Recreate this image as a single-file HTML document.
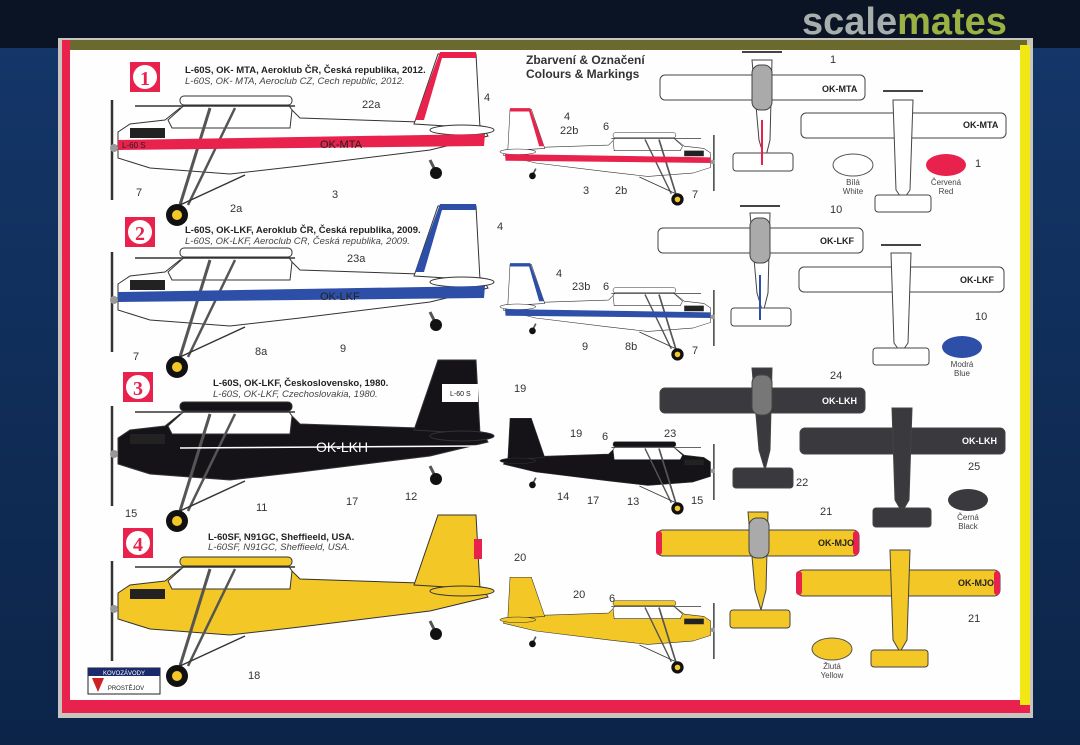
<!DOCTYPE html>
<html><head><meta charset="utf-8"><style>
html,body{margin:0;padding:0;width:1080px;height:745px;overflow:hidden;background:#0e2c55;}
svg{display:block}
text{font-family:"Liberation Sans","DejaVu Sans",sans-serif;}
</style></head><body>
<svg width="1080" height="745" viewBox="0 0 1080 745" xmlns="http://www.w3.org/2000/svg">
<defs>
<linearGradient id="bg" x1="0" y1="0" x2="0" y2="1"><stop offset="0" stop-color="#14376a"/><stop offset="1" stop-color="#0c2448"/></linearGradient>
<g id="side">
 <path d="M118,132 L130,124 L165,120 L180,108 L290,108 L300,118 L420,122 L482,126 L488,136 L430,150 L300,166 L230,174 L150,168 L118,158 Z" stroke="#333" stroke-width="1"/>
 <path d="M414,124 L438,54 L476,54 L480,128 Z" stroke="#333" stroke-width="1"/>
 <ellipse cx="462" cy="130" rx="32" ry="5" stroke="#333" stroke-width="1"/>
 <path d="M168,120 L190,100 L285,100 L292,110 L290,128 L172,128 Z" fill="#fff" stroke="#333" stroke-width="1"/>
 <rect x="180" y="96" width="112" height="9" rx="4" stroke="#333" stroke-width="1"/>
 <line x1="135" y1="106" x2="295" y2="106" stroke="#333" stroke-width="1.5"/>
 <line x1="210" y1="108" x2="180" y2="205" stroke="#555" stroke-width="3"/>
 <line x1="235" y1="108" x2="188" y2="205" stroke="#555" stroke-width="2.5"/>
 <line x1="180" y1="205" x2="245" y2="175" stroke="#333" stroke-width="1.5"/>
 <circle cx="177" cy="215" r="11" fill="#111"/>
 <circle cx="177" cy="215" r="5" fill="#f3c826"/>
 <line x1="430" y1="160" x2="436" y2="172" stroke="#555" stroke-width="3"/>
 <circle cx="436" cy="173" r="6" fill="#111"/>
 <line x1="112" y1="100" x2="112" y2="200" stroke="#333" stroke-width="2.5"/>
 <circle cx="114" cy="148" r="4" fill="#999"/>
 <path d="M130,128 L165,128 L165,138 L130,138 Z" fill="#222"/>
</g>
</defs>
<rect width="1080" height="745" fill="url(#bg)"/>
<rect x="0" y="0" width="1080" height="48" fill="#0b1424"/>
<rect x="58" y="38" width="975" height="680" fill="#c8c4c0"/>
<rect x="62" y="40" width="965" height="12" fill="#6b6a2e"/>
<rect x="62" y="40" width="8" height="672" fill="#e8224c"/>
<rect x="62" y="700" width="968" height="13" fill="#e8224c"/>
<rect x="1020" y="45" width="10" height="660" fill="#f1e714"/>
<rect x="70" y="50" width="950" height="650" fill="#fefefe"/>
<text x="802" y="34" font-size="38" font-weight="bold" fill="#c4c9c4" fill-opacity="0.85">scale<tspan fill="#b6cc4a">mates</tspan></text>

<g font-weight="bold">
 <rect x="130" y="62" width="30" height="30" fill="#e8224c"/><circle cx="145" cy="77" r="12" fill="#fff"/><text x="145" y="85" font-size="20" font-weight="bold" text-anchor="middle" fill="#e8224c" style="font-family:'Liberation Serif',serif">1</text>
 <rect x="125" y="217" width="30" height="30" fill="#e8224c"/><circle cx="140" cy="232" r="12" fill="#fff"/><text x="140" y="240" font-size="20" font-weight="bold" text-anchor="middle" fill="#e8224c" style="font-family:'Liberation Serif',serif">2</text>
 <rect x="123" y="372" width="30" height="30" fill="#e8224c"/><circle cx="138" cy="387" r="12" fill="#fff"/><text x="138" y="395" font-size="20" font-weight="bold" text-anchor="middle" fill="#e8224c" style="font-family:'Liberation Serif',serif">3</text>
 <rect x="123" y="528" width="30" height="30" fill="#e8224c"/><circle cx="138" cy="543" r="12" fill="#fff"/><text x="138" y="551" font-size="20" font-weight="bold" text-anchor="middle" fill="#e8224c" style="font-family:'Liberation Serif',serif">4</text>
</g>

<g font-size="9.5" fill="#222">
<text x="185" y="73" font-weight="bold">L-60S, OK- MTA, Aeroklub ČR, Česká republika, 2012.</text>
<text x="185" y="84" font-style="italic" fill="#444">L-60S, OK- MTA, Aeroclub CZ, Cech republic, 2012.</text>
<text x="185" y="233" font-weight="bold">L-60S, OK-LKF, Aeroklub ČR, Česká republika, 2009.</text>
<text x="185" y="244" font-style="italic" fill="#444">L-60S, OK-LKF, Aeroclub CR, Česká republika, 2009.</text>
<text x="213" y="386" font-weight="bold">L-60S, OK-LKF, Československo, 1980.</text>
<text x="213" y="397" font-style="italic" fill="#444">L-60S, OK-LKF, Czechoslovakia, 1980.</text>
<text x="208" y="540" font-weight="bold">L-60SF, N91GC, Sheffieeld, USA.</text>
<text x="208" y="550" font-style="italic" fill="#444">L-60SF, N91GC, Sheffieeld, USA.</text>
</g>
<text x="526" y="64" font-size="12" font-weight="bold" fill="#333">Zbarvení &amp; Označení</text>
<text x="526" y="78" font-size="12" font-weight="bold" fill="#333">Colours &amp; Markings</text>

<use href="#side" fill="#fff"/>
<path d="M118,140 L485,134 L484,146 L118,150 Z" fill="#e8224c"/>
<path d="M440,52 L476,52 L476,58 L442,58 L424,120 L415,120 Z" fill="#e8224c"/>
<text x="320" y="148" font-size="11" fill="#222">OK-MTA</text>
<text x="122" y="148" font-size="8" fill="#222">L-60 S</text>

<g transform="translate(0,152)"><use href="#side" fill="#fff"/>
<path d="M118,140 L485,134 L484,146 L118,150 Z" fill="#2e4fa8"/>
<path d="M440,52 L476,52 L476,58 L442,58 L424,120 L415,120 Z" fill="#2e4fa8"/>
<text x="320" y="148" font-size="11" fill="#222">OK-LKF</text></g>

<g transform="translate(0,306)"><use href="#side" fill="#151318"/>
<line x1="180" y1="142" x2="480" y2="140" stroke="#fff" stroke-width="1.5"/>
<text x="316" y="146" font-size="14" fill="#fff">OK-LKH</text>
<rect x="442" y="78" width="36" height="18" fill="#fff"/><text x="450" y="90" font-size="7" fill="#111">L-60 S</text></g>

<g transform="translate(0,461)"><use href="#side" fill="#f3c826"/>
<rect x="474" y="78" width="8" height="20" fill="#e8224c"/></g>

<g transform="translate(776.6,79) scale(-0.56,0.56)"><use href="#side" fill="#fff"/><path d="M118,140 L485,134 L484,146 L118,150 Z" fill="#e8224c"/><path d="M440,52 L476,52 L476,58 L442,58 L424,120 L415,120 Z" fill="#e8224c"/></g>
<g transform="translate(776.6,234) scale(-0.56,0.56)"><use href="#side" fill="#fff"/><path d="M118,140 L485,134 L484,146 L118,150 Z" fill="#2e4fa8"/><path d="M440,52 L476,52 L476,58 L442,58 L424,120 L415,120 Z" fill="#2e4fa8"/></g>
<g transform="translate(776.6,388) scale(-0.56,0.56)"><use href="#side" fill="#151318"/></g>
<g transform="translate(776.6,547) scale(-0.56,0.56)"><use href="#side" fill="#f3c826"/></g>

<g stroke="#444" stroke-width="1">
 <rect x="660" y="75" width="205" height="25" rx="5" fill="#fff"/><path d="M752,60 L772,60 L770,140 L765,160 L759,140 Z" fill="#fff"/><rect x="752" y="65" width="20" height="45" rx="8" fill="#aaa"/><rect x="733" y="153" width="60" height="18" rx="3" fill="#fff"/><line x1="742" y1="52" x2="782" y2="52" stroke-width="2"/>
 <line x1="762" y1="120" x2="762" y2="165" stroke="#e8224c" stroke-width="2"/>
 <rect x="801" y="113" width="205" height="25" rx="5" fill="#fff"/><path d="M893,100 L913,100 L910,190 L903,200 L896,190 Z" fill="#fff"/><rect x="875" y="195" width="56" height="17" rx="3" fill="#fff"/><line x1="883" y1="91" x2="923" y2="91" stroke-width="2"/>
 <rect x="658" y="228" width="205" height="25" rx="5" fill="#fff"/><path d="M750,213 L770,213 L768,293 L763,313 L757,293 Z" fill="#fff"/><rect x="750" y="218" width="20" height="45" rx="8" fill="#aaa"/><rect x="731" y="308" width="60" height="18" rx="3" fill="#fff"/><line x1="740" y1="206" x2="780" y2="206" stroke-width="2"/>
 <line x1="760" y1="275" x2="760" y2="320" stroke="#2e4fa8" stroke-width="2"/>
 <rect x="799" y="267" width="205" height="25" rx="5" fill="#fff"/><path d="M891,253 L911,253 L908,343 L901,353 L894,343 Z" fill="#fff"/><rect x="873" y="348" width="56" height="17" rx="3" fill="#fff"/><line x1="881" y1="245" x2="921" y2="245" stroke-width="2"/>
 <rect x="660" y="388" width="205" height="25" rx="5" fill="#3a393d"/><path d="M752,368 L772,368 L770,450 L765,470 L759,450 Z" fill="#3a393d"/><rect x="752" y="375" width="20" height="40" rx="8" fill="#777"/><rect x="733" y="468" width="60" height="20" rx="3" fill="#3a393d"/>
 <rect x="800" y="428" width="205" height="26" rx="5" fill="#3a393d"/><path d="M892,408 L912,408 L909,500 L902,512 L895,500 Z" fill="#3a393d"/><rect x="873" y="508" width="58" height="19" rx="3" fill="#3a393d"/>
 <rect x="657" y="530" width="202" height="26" rx="6" fill="#f3c826"/><path d="M748,512 L768,512 L766,590 L761,610 L755,590 Z" fill="#f3c826"/><rect x="749" y="518" width="20" height="40" rx="8" fill="#aaa"/><rect x="730" y="610" width="60" height="18" rx="3" fill="#f3c826"/>
 <rect x="797" y="570" width="203" height="26" rx="6" fill="#f3c826"/><path d="M890,550 L910,550 L907,640 L900,652 L893,640 Z" fill="#f3c826"/><rect x="871" y="650" width="57" height="17" rx="3" fill="#f3c826"/>
</g>
<g fill="#e8224c"><rect x="656" y="531" width="6" height="24" rx="3"/><rect x="853" y="531" width="6" height="24" rx="3"/><rect x="796" y="571" width="6" height="24" rx="3"/><rect x="994" y="571" width="6" height="24" rx="3"/></g>
<g font-size="9" font-weight="bold" fill="#222">
<text x="822" y="92">OK-MTA</text><text x="963" y="128">OK-MTA</text>
<text x="820" y="244">OK-LKF</text><text x="960" y="283">OK-LKF</text>
<text x="822" y="404" fill="#fff">OK-LKH</text><text x="962" y="444" fill="#fff">OK-LKH</text>
<text x="818" y="546">OK-MJO</text><text x="958" y="586">OK-MJO</text>
</g>

<g stroke="#555" stroke-width="1">
<ellipse cx="853" cy="165" rx="20" ry="11" fill="#fff"/>
<ellipse cx="946" cy="165" rx="20" ry="11" fill="#e8224c" stroke="none"/>
<ellipse cx="962" cy="347" rx="20" ry="11" fill="#2e4fa8" stroke="none"/>
<ellipse cx="968" cy="500" rx="20" ry="11" fill="#3a393d" stroke="none"/>
<ellipse cx="832" cy="649" rx="20" ry="11" fill="#f3c826"/>
</g>
<g font-size="8" fill="#444" text-anchor="middle">
<text x="853" y="185">Bílá</text><text x="853" y="194">White</text>
<text x="946" y="185">Červená</text><text x="946" y="194">Red</text>
<text x="962" y="367">Modrá</text><text x="962" y="376">Blue</text>
<text x="968" y="520">Černá</text><text x="968" y="529">Black</text>
<text x="832" y="669">Žlutá</text><text x="832" y="678">Yellow</text>
</g>

<g font-size="11" fill="#333">
<text x="484" y="101">4</text><text x="362" y="108">22a</text><text x="136" y="196">7</text><text x="230" y="212">2a</text><text x="332" y="198">3</text>
<text x="564" y="120">4</text><text x="560" y="134">22b</text><text x="603" y="130">6</text><text x="583" y="194">3</text><text x="615" y="194">2b</text><text x="692" y="198">7</text>
<text x="497" y="230">4</text><text x="347" y="262">23a</text><text x="133" y="360">7</text><text x="255" y="355">8a</text><text x="340" y="352">9</text>
<text x="556" y="277">4</text><text x="572" y="290">23b</text><text x="603" y="290">6</text><text x="582" y="350">9</text><text x="625" y="350">8b</text><text x="692" y="354">7</text>
<text x="514" y="392">19</text><text x="125" y="517">15</text><text x="256" y="511">11</text><text x="346" y="505">17</text><text x="405" y="500">12</text>
<text x="570" y="437">19</text><text x="602" y="440">6</text><text x="664" y="437">23</text><text x="557" y="500">14</text><text x="587" y="504">17</text><text x="627" y="505">13</text><text x="691" y="504">15</text>
<text x="514" y="561">20</text><text x="248" y="679">18</text><text x="573" y="598">20</text><text x="609" y="602">6</text>
<text x="830" y="63">1</text><text x="975" y="167">1</text><text x="830" y="213">10</text><text x="975" y="320">10</text>
<text x="830" y="379">24</text><text x="796" y="486">22</text><text x="968" y="470">25</text><text x="820" y="515">21</text><text x="968" y="622">21</text>
</g>

<rect x="88" y="668" width="72" height="26" fill="#fff" stroke="#222"/>
<rect x="88" y="668" width="72" height="8" fill="#1a2a6a"/>
<text x="124" y="675" font-size="6" fill="#fff" text-anchor="middle">KOVOZÁVODY</text>
<text x="126" y="690" font-size="6" fill="#222" text-anchor="middle">PROSTĚJOV</text>
<path d="M92,678 L104,678 L98,692 Z" fill="#c22"/>
</svg>
</body></html>
